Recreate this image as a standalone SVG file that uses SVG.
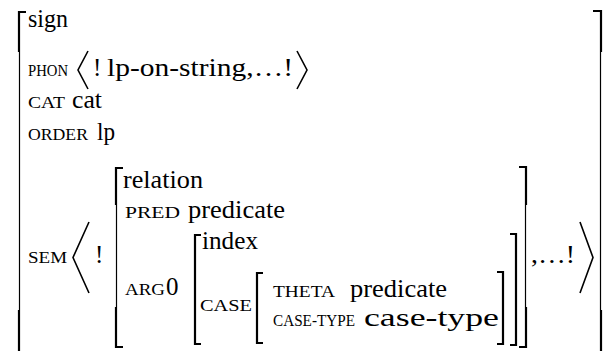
<svg xmlns="http://www.w3.org/2000/svg" width="613" height="351" viewBox="0 0 613 351" font-family="'Liberation Serif', 'DejaVu Serif', serif">
<style>
  .v { font-family: 'Liberation Serif', 'DejaVu Serif', serif; font-size: 25px; fill: #000; }
  .sc { font-family: 'Liberation Serif', 'DejaVu Serif', serif; font-size: 17px; fill: #000; }
  .thick { stroke: #000; stroke-width: 2.2; fill: none; stroke-linecap: butt; }
  .thin { stroke: #000; stroke-width: 1.2; fill: none; }
  .ang { stroke: #000; stroke-width: 1.6; fill: none; stroke-linejoin: miter; }
</style>
<rect width="613" height="351" fill="#fff"/>

<g id="outer-brackets">
  <path class="thick" d="M26,12 H19 V52 M19,310 V351"/>
  <path class="thin" d="M19.5,52 V310"/>
  <path class="thick" d="M593,11 H601 V52 M601,310 V351"/>
  <path class="thin" d="M600.5,52 V310"/>
</g>

<g id="sign">
  <text class="v" x="28" y="27" textLength="40" lengthAdjust="spacingAndGlyphs">sign</text>
</g>

<g id="phon">
  <text class="sc" x="28" y="76" textLength="40" lengthAdjust="spacingAndGlyphs">PHON</text>
  <path class="ang" d="M88,51 L78,70 L88,89"/>
  <text class="v" x="93" y="76">!</text>
  <text class="v" x="107" y="76" textLength="186" lengthAdjust="spacingAndGlyphs">lp-on-string,…!</text>
  <path class="ang" d="M297,51 L307,70 L297,89"/>
</g>

<g id="cat">
  <text class="sc" x="28" y="108" textLength="37" lengthAdjust="spacingAndGlyphs">CAT</text>
  <text class="v" x="72" y="108" textLength="30" lengthAdjust="spacingAndGlyphs">cat</text>
</g>

<g id="order">
  <text class="sc" x="28" y="140" textLength="60" lengthAdjust="spacingAndGlyphs">ORDER</text>
  <text class="v" x="97" y="140" textLength="18" lengthAdjust="spacingAndGlyphs">lp</text>
</g>

<g id="sem">
  <text class="sc" x="28" y="263" textLength="39" lengthAdjust="spacingAndGlyphs">SEM</text>
  <path class="ang" d="M89,222 L73,257.5 L89,293"/>
  <text class="v" x="95" y="263">!</text>
  <text class="v" x="531" y="263" textLength="44" lengthAdjust="spacingAndGlyphs">,…!</text>
  <path class="ang" d="M580,222 L593,257.5 L580,293"/>
</g>

<g id="relation">
  <path class="thick" d="M123,168 H116 V205 M116,307 V347 H123"/>
  <path class="thin" d="M116.5,205 V307"/>
  <path class="thick" d="M519,167 H526 V205 M526,307 V347 H519"/>
  <path class="thin" d="M525.5,205 V307"/>
  <text class="v" x="123" y="188" textLength="80" lengthAdjust="spacingAndGlyphs">relation</text>
  <text class="sc" x="125" y="218" textLength="55" lengthAdjust="spacingAndGlyphs">PRED</text>
  <text class="v" x="188" y="218" textLength="97" lengthAdjust="spacingAndGlyphs">predicate</text>
  <text class="sc" x="125" y="295" textLength="40" lengthAdjust="spacingAndGlyphs">ARG</text>
  <text class="v" x="166" y="295">0</text>
</g>

<g id="index">
  <path class="thick" d="M201,235 H195 V344 H201"/>
  <path class="thick" d="M510,234 H516 V345 H510"/>
  <text class="v" x="202" y="249" textLength="56" lengthAdjust="spacingAndGlyphs">index</text>
  <text class="sc" x="200" y="311" textLength="52" lengthAdjust="spacingAndGlyphs">CASE</text>
</g>

<g id="case">
  <path class="thick" d="M263,273 H257 V343 H263"/>
  <path class="thick" d="M497,272 H503 V344 H497"/>
  <text class="sc" x="273" y="297" textLength="62" lengthAdjust="spacingAndGlyphs">THETA</text>
  <text class="v" x="350" y="297" textLength="97" lengthAdjust="spacingAndGlyphs">predicate</text>
  <text class="sc" x="273" y="326" textLength="82" lengthAdjust="spacingAndGlyphs">CASE-TYPE</text>
  <text class="v" x="364" y="326" textLength="135" lengthAdjust="spacingAndGlyphs">case-type</text>
</g>
</svg>
